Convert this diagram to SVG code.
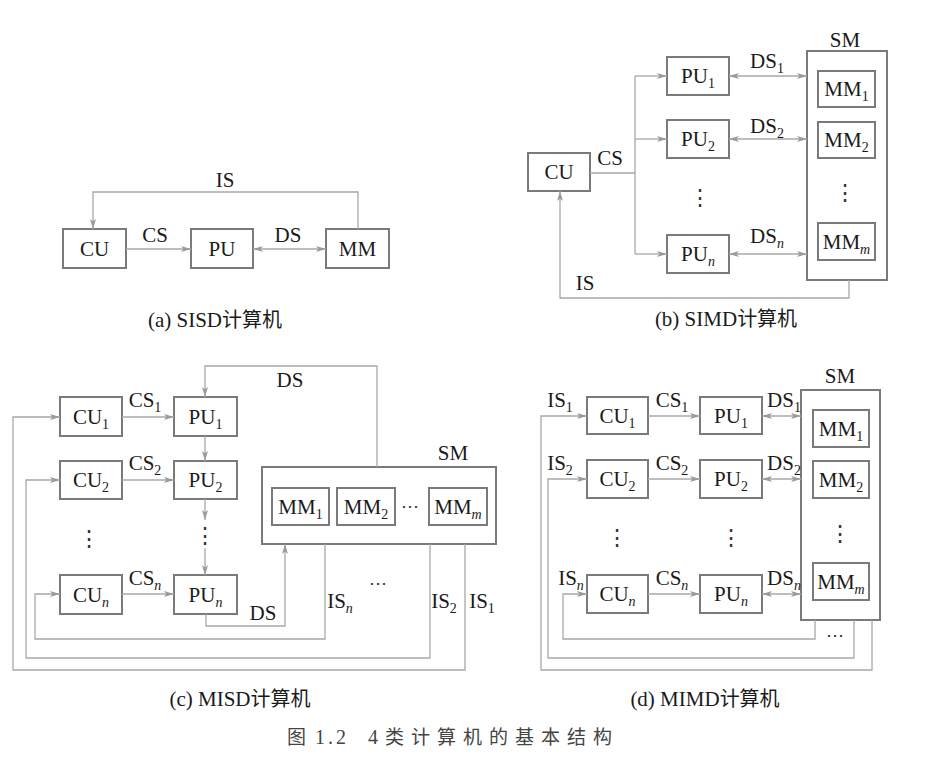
<svg xmlns="http://www.w3.org/2000/svg" width="926" height="768" viewBox="0 0 926 768">
<defs>
<style>
.box{fill:#fff;stroke:#7a7a7a;stroke-width:2}
.ln{fill:none;stroke:#a8a8a8;stroke-width:1.3}
.arr{marker-end:url(#ah)}
.bi{marker-start:url(#ah);marker-end:url(#ah)}
.t{font-family:"Liberation Serif","Times New Roman",serif;font-size:21px;fill:#1a1a1a;text-anchor:middle}
.s{font-size:14px}
.i{font-style:italic}
.dot{font-family:"DejaVu Serif",serif;font-size:22px;fill:#333;text-anchor:middle}
.hd{font-family:"DejaVu Serif",serif;font-size:18px;fill:#333;text-anchor:middle}
.cap{font-family:"Liberation Serif","Noto Sans CJK SC",serif;font-size:21px;fill:#1a1a1a;text-anchor:middle}
.cj{font-family:"Noto Sans CJK SC",sans-serif;font-size:20px}
.fig{font-family:"Noto Sans CJK SC","Liberation Serif",sans-serif;font-size:19px;fill:#444}
</style>
<marker id="ah" viewBox="0 0 10 6" refX="10" refY="3" markerWidth="10" markerHeight="6" markerUnits="userSpaceOnUse" orient="auto-start-reverse">
<path d="M0,0 L10,3 L0,6 L2.5,3 Z" fill="#9a9a9a"/>
</marker>
</defs>
<rect width="926" height="768" fill="#fff"/>

<!-- (a) SISD -->
<g id="a-cu"><rect class="box" x="63" y="229" width="63" height="39"/><text class="t" x="94.5" y="256">CU</text></g>
<g id="a-pu"><rect class="box" x="191" y="229" width="62" height="39"/><text class="t" x="222" y="256">PU</text></g>
<g id="a-mm"><rect class="box" x="326" y="229" width="63" height="39"/><text class="t" x="357.5" y="256">MM</text></g>

<!-- (b) SIMD -->
<g id="b-cu"><rect class="box" x="528" y="153" width="62" height="38"/><text class="t" x="559" y="179">CU</text></g>
<g id="b-pu1"><rect class="box" x="667" y="57" width="62" height="38"/><text class="t" x="698" y="83">PU<tspan class="s" dy="5">1</tspan></text></g>
<g id="b-pu2"><rect class="box" x="667" y="120" width="62" height="38"/><text class="t" x="698" y="146">PU<tspan class="s" dy="5">2</tspan></text></g>
<g id="b-pun"><rect class="box" x="667" y="235" width="62" height="38"/><text class="t" x="698" y="261">PU<tspan class="s i" dy="5">n</tspan></text></g>
<text class="dot" x="700" y="205">⋮</text>
<g id="b-sm"><rect class="box" x="807" y="51" width="80" height="229"/><text class="t" x="845" y="47">SM</text>
<g id="b-mm1"><rect class="box" x="818" y="71" width="57" height="36"/><text class="t" x="846.5" y="96">MM<tspan class="s" dy="5">1</tspan></text></g>
<g id="b-mm2"><rect class="box" x="818" y="122" width="57" height="36"/><text class="t" x="846.5" y="147">MM<tspan class="s" dy="5">2</tspan></text></g>
<text class="dot" x="845" y="200">⋮</text>
<g id="b-mmm"><rect class="box" x="818" y="223" width="57" height="37"/><text class="t" x="846.5" y="249">MM<tspan class="s i" dy="5">m</tspan></text></g>
</g>

<!-- (c) MISD -->
<g id="c-cu1"><rect class="box" x="60" y="397" width="62" height="39"/><text class="t" x="91" y="424">CU<tspan class="s" dy="5">1</tspan></text></g>
<g id="c-pu1"><rect class="box" x="174" y="397" width="63" height="39"/><text class="t" x="205.5" y="424">PU<tspan class="s" dy="5">1</tspan></text></g>
<g id="c-cu2"><rect class="box" x="60" y="461" width="62" height="38"/><text class="t" x="91" y="487">CU<tspan class="s" dy="5">2</tspan></text></g>
<g id="c-pu2"><rect class="box" x="174" y="461" width="63" height="38"/><text class="t" x="205.5" y="487">PU<tspan class="s" dy="5">2</tspan></text></g>
<g id="c-cun"><rect class="box" x="60" y="575" width="62" height="39"/><text class="t" x="91" y="602">CU<tspan class="s i" dy="5">n</tspan></text></g>
<g id="c-pun"><rect class="box" x="174" y="575" width="63" height="39"/><text class="t" x="205.5" y="602">PU<tspan class="s i" dy="5">n</tspan></text></g>
<text class="dot" x="89" y="546">⋮</text>
<g id="c-sm"><rect class="box" x="262" y="467" width="234" height="77"/><text class="t" x="453" y="460">SM</text>
<g id="c-mm1"><rect class="box" x="272" y="488" width="57" height="37"/><text class="t" x="300.5" y="514">MM<tspan class="s" dy="5">1</tspan></text></g>
<g id="c-mm2"><rect class="box" x="337" y="488" width="58" height="37"/><text class="t" x="366" y="514">MM<tspan class="s" dy="5">2</tspan></text></g>
<text class="hd" x="410" y="512">⋯</text>
<g id="c-mmm"><rect class="box" x="429" y="488" width="58" height="37"/><text class="t" x="458" y="514">MM<tspan class="s i" dy="5">m</tspan></text></g>
</g>

<!-- (d) MIMD -->
<g id="d-cu1"><rect class="box" x="587" y="397" width="61" height="37"/><text class="t" x="617.5" y="423">CU<tspan class="s" dy="5">1</tspan></text></g>
<g id="d-pu1"><rect class="box" x="700" y="397" width="62" height="37"/><text class="t" x="731" y="423">PU<tspan class="s" dy="5">1</tspan></text></g>
<g id="d-cu2"><rect class="box" x="587" y="460" width="61" height="38"/><text class="t" x="617.5" y="486">CU<tspan class="s" dy="5">2</tspan></text></g>
<g id="d-pu2"><rect class="box" x="700" y="460" width="62" height="38"/><text class="t" x="731" y="486">PU<tspan class="s" dy="5">2</tspan></text></g>
<g id="d-cun"><rect class="box" x="587" y="575" width="61" height="38"/><text class="t" x="617.5" y="601">CU<tspan class="s i" dy="5">n</tspan></text></g>
<g id="d-pun"><rect class="box" x="700" y="575" width="62" height="38"/><text class="t" x="731" y="601">PU<tspan class="s i" dy="5">n</tspan></text></g>
<text class="dot" x="617" y="545">⋮</text>
<text class="dot" x="731" y="545">⋮</text>
<g id="d-sm"><rect class="box" x="801" y="390" width="79" height="230"/><text class="t" x="840" y="383">SM</text>
<g id="d-mm1"><rect class="box" x="813" y="410" width="56" height="37"/><text class="t" x="841" y="436">MM<tspan class="s" dy="5">1</tspan></text></g>
<g id="d-mm2"><rect class="box" x="813" y="461" width="56" height="37"/><text class="t" x="841" y="487">MM<tspan class="s" dy="5">2</tspan></text></g>
<text class="dot" x="840" y="541">⋮</text>
<g id="d-mmm"><rect class="box" x="813" y="563" width="56" height="37"/><text class="t" x="841" y="589">MM<tspan class="s i" dy="5">m</tspan></text></g>
</g>

<g id="connectors">
<!-- (a) -->
<path class="ln arr" d="M358,229 V192 H93 V229"/>
<path class="ln arr" d="M126,249 H191"/>
<path class="ln bi" d="M253,249 H326"/>
<!-- (b) -->
<path class="ln" d="M590,173 H635 M635,76 V254"/>
<path class="ln arr" d="M635,76 H667"/>
<path class="ln arr" d="M635,139 H667"/>
<path class="ln arr" d="M635,254 H667"/>
<path class="ln bi" d="M729,76 H807"/>
<path class="ln bi" d="M729,139 H807"/>
<path class="ln bi" d="M729,254 H807"/>
<path class="ln arr" d="M849,280 V298 H560 V191"/>
<!-- (c) -->
<path class="ln arr" d="M122,417 H174"/>
<path class="ln arr" d="M122,480 H174"/>
<path class="ln arr" d="M122,594 H174"/>
<path class="ln arr" d="M377,467 V366 H205 V397"/>
<path class="ln arr" d="M205,436 V461"/>
<path class="ln arr" d="M205,499 V520"/>
<text class="dot" x="205" y="543">⋮</text>
<path class="ln arr" d="M205,548 V575"/>
<path class="ln arr" d="M206,614 V626 H285 V544"/>
<path class="ln arr" d="M325,544 V639 H35 V594 H60"/>
<path class="ln arr" d="M430,544 V658 H26 V480 H60"/>
<path class="ln arr" d="M465,544 V670 H13 V417 H60"/>
<text class="hd" x="378" y="589">⋯</text>
<!-- (d) -->
<path class="ln arr" d="M648,416 H700"/>
<path class="ln arr" d="M648,479 H700"/>
<path class="ln arr" d="M648,594 H700"/>
<path class="ln bi" d="M762,416 H801"/>
<path class="ln bi" d="M762,479 H801"/>
<path class="ln bi" d="M762,594 H801"/>
<path class="ln arr" d="M872,620 V670 H541 V416 H587"/>
<path class="ln arr" d="M854,620 V658 H548 V479 H587"/>
<path class="ln arr" d="M815,620 V639 H563 V594 H587"/>
<text class="hd" x="835" y="641">⋯</text>
</g>

<g id="labels">
<text class="t" x="225" y="187">IS</text>
<text class="t" x="155" y="242">CS</text>
<text class="t" x="288" y="242">DS</text>

<text class="t" x="610" y="165">CS</text>
<text class="t" x="767" y="68">DS<tspan class="s" dy="5">1</tspan></text>
<text class="t" x="767" y="133">DS<tspan class="s" dy="5">2</tspan></text>
<text class="t" x="767" y="243">DS<tspan class="s i" dy="5">n</tspan></text>
<text class="t" x="585" y="290">IS</text>

<text class="t" x="145" y="407">CS<tspan class="s" dy="5">1</tspan></text>
<text class="t" x="145" y="470">CS<tspan class="s" dy="5">2</tspan></text>
<text class="t" x="145" y="585">CS<tspan class="s i" dy="5">n</tspan></text>
<text class="t" x="290" y="387">DS</text>
<text class="t" x="263" y="620">DS</text>
<text class="t" x="340" y="608">IS<tspan class="s i" dy="5">n</tspan></text>
<text class="t" x="444" y="608">IS<tspan class="s" dy="5">2</tspan></text>
<text class="t" x="482" y="608">IS<tspan class="s" dy="5">1</tspan></text>

<text class="t" x="672" y="407">CS<tspan class="s" dy="5">1</tspan></text>
<text class="t" x="672" y="470">CS<tspan class="s" dy="5">2</tspan></text>
<text class="t" x="672" y="585">CS<tspan class="s i" dy="5">n</tspan></text>
<text class="t" x="784" y="407">DS<tspan class="s" dy="5">1</tspan></text>
<text class="t" x="784" y="470">DS<tspan class="s" dy="5">2</tspan></text>
<text class="t" x="784" y="585">DS<tspan class="s i" dy="5">n</tspan></text>
<text class="t" x="560" y="407">IS<tspan class="s" dy="5">1</tspan></text>
<text class="t" x="560" y="470">IS<tspan class="s" dy="5">2</tspan></text>
<text class="t" x="571" y="585">IS<tspan class="s i" dy="5">n</tspan></text>
</g>

<g id="captions">
<text class="cap" x="215" y="327">(a) SISD<tspan class="cj">计算机</tspan></text>
<text class="cap" x="726" y="326">(b) SIMD<tspan class="cj">计算机</tspan></text>
<text class="cap" x="240" y="706">(c) MISD<tspan class="cj">计算机</tspan></text>
<text class="cap" x="705" y="706">(d) MIMD<tspan class="cj">计算机</tspan></text>
<text class="fig" y="744"><tspan x="287">图</tspan><tspan x="315" font-family="Liberation Serif" font-size="20" letter-spacing="3">1.2</tspan><tspan x="368" font-family="Liberation Serif" font-size="20">4</tspan><tspan x="385" letter-spacing="7">类计算机的基本结构</tspan></text>
</g>
</svg>
